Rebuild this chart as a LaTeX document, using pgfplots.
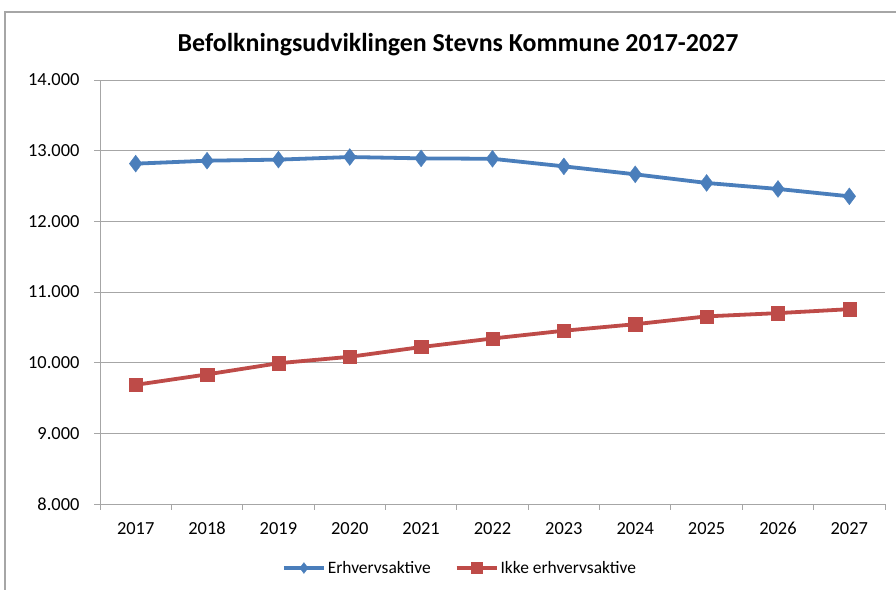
\documentclass[border=0pt]{standalone}
\usepackage{pgfplots}
\pgfplotsset{compat=1.18}
\usepackage{fontspec}
\setmainfont{Carlito}
\definecolor{sblue}{HTML}{4A7EBB}
\definecolor{sred}{HTML}{BE4B48}
\definecolor{gridc}{HTML}{A6A6A6}
\begin{document}
\begin{tikzpicture}[x=1bp,y=1bp]
\useasboundingbox (0,0) rectangle (896,590);
\draw[gridc, line width=1.2bp] (5,0) -- (5,578) -- (896,578);
\node[font=\bfseries\fontsize{26}{30}\selectfont] at (458,545) {Befolkningsudviklingen Stevns Kommune 2017-2027};
\begin{axis}[
  at={(100bp,86bp)}, anchor=south west,
  scale only axis, width=785bp, height=424bp,
  xmin=-0.5, xmax=10.5, ymin=8000, ymax=14000,
  axis line style={gridc, line width=0.9bp},
  axis x line*=bottom, axis y line*=left,
  xtick={0,...,10},
  xticklabels={2017,2018,2019,2020,2021,2022,2023,2024,2025,2026,2027},
  minor xtick={-0.5,0.5,...,10.5},
  major x tick style={draw=none},
  minor x tick style={gridc, line width=0.9bp},
  minor tick length=6bp,
  ytick={8000,9000,...,14000},
  scaled y ticks=false,
  ytick style={gridc, line width=0.9bp},
  major tick length=6bp,
  tick align=outside,
  ymajorgrids, grid style={gridc, line width=0.9bp},
  /pgf/number format/fixed,
  /pgf/number format/precision=0,
  /pgf/number format/1000 sep={.},
  /pgf/number format/min exponent for 1000 sep=0,
  /pgf/number format/assume math mode=true,
  ticklabel style={font=\fontsize{18.5}{21}\selectfont, text=black},
  xticklabel style={text height=12bp, text depth=0bp, yshift=-9bp},
  yticklabel style={xshift=-11bp},
  legend style={at={(0.4586,-0.151)}, anchor=center, draw=none, fill=none,
    font=\fontsize{17.5}{20}\selectfont, legend columns=2,
    /tikz/every even column/.append style={column sep=22bp}},
  legend image code/.code={
    \draw[#1, mark=none] (0bp,0bp) -- (40bp,0bp);
    \draw[#1, line width=0pt, mark size=5.5bp] plot coordinates {(20bp,0bp)};
  },
  clip=false,
]
\addplot[sblue, line width=3.8bp, mark=diamond*, mark size=8.5bp, mark options={solid, line width=0.3bp}] coordinates {
(0,12816) (1,12858) (2,12873) (3,12910) (4,12891) (5,12885)
(6,12778) (7,12665) (8,12543) (9,12458) (10,12354)};
\addlegendentry{Erhvervsaktive}
\addplot[sred, line width=3.8bp, mark=square*, mark size=6.6bp, mark options={solid, line width=0.3bp}] coordinates {
(0,9686) (1,9834) (2,9992) (3,10083) (4,10221) (5,10342)
(6,10452) (7,10544) (8,10655) (9,10701) (10,10757)};
\addlegendentry{Ikke erhvervsaktive}
\end{axis}
\end{tikzpicture}
\end{document}
